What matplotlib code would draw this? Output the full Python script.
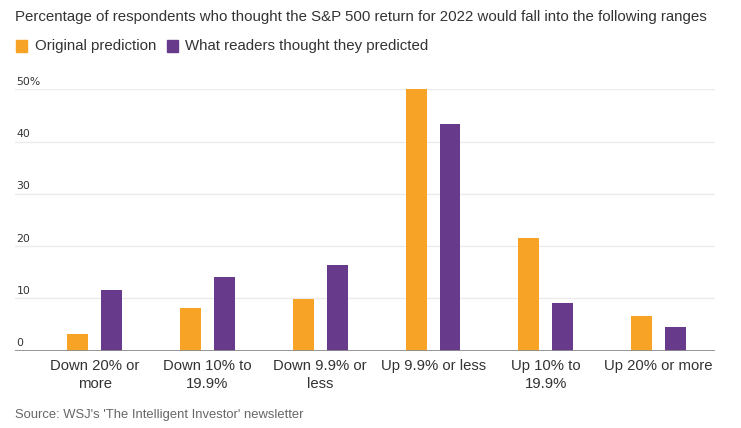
import matplotlib.pyplot as plt
import numpy as np

plt.rcParams['font.family'] = ['Liberation Sans', 'DejaVu Sans']

categories = ['Down 20% or\nmore', 'Down 10% to\n19.9%', 'Down 9.9% or\nless',
              'Up 9.9% or less', 'Up 10% to\n19.9%', 'Up 20% or more']
original = [3.2, 8.1, 9.8, 50.0, 21.5, 6.6]
readers = [11.7, 14.1, 16.3, 43.3, 9.2, 4.6]
yticks = [0, 10, 20, 30, 40, 50]
ytick_labels = ['0', '10', '20', '30', '40', '50%']

c_orange = '#F7A325'
c_purple = '#673A8C'

fig = plt.figure(figsize=(7.41, 4.28), dpi=100)
ax = fig.add_axes([0.0202, 0.1806, 0.9448, 0.6108])

x = np.arange(len(categories))
w = 0.186
ax.bar(x - 0.15, original, w, color=c_orange, zorder=3, clip_on=False)
ax.bar(x + 0.15, readers, w, color=c_purple, zorder=3, clip_on=False)

ax.set_xlim(-0.707, 5.50)
ax.set_ylim(0, 50)

# gridlines + labels sitting above them
for v, lab in zip(yticks, ytick_labels):
    if v > 0:
        ax.axhline(v, color='#ebebeb', lw=1, zorder=1)
    ax.text(0.002, v + 0.45, lab, transform=ax.get_yaxis_transform(),
            ha='left', va='bottom', fontsize=7.8, color='#333333',
            family='DejaVu Sans')
ax.axhline(0, color='#8c8c8c', lw=2, zorder=4)

for s in ax.spines.values():
    s.set_visible(False)
ax.set_yticks([])
ax.set_xticks(x)
ax.set_xticklabels(categories, fontsize=10.7, color='#333333', linespacing=1.35)
ax.tick_params(axis='x', length=0, pad=6)

fig.text(15 / 741, 1 - 17 / 428, 'Percentage of respondents who thought the S&P 500 return for 2022 would fall into the following ranges',
         ha='left', va='center', fontsize=10.8, color='#333333')

# legend
fig.patches.append(plt.Rectangle((16 / 741, 1 - 52 / 428), 11 / 741, 12 / 428,
                                 transform=fig.transFigure, color=c_orange))
fig.text(35 / 741, 1 - 46 / 428, 'Original prediction', ha='left', va='center',
         fontsize=10.8, color='#333333')
fig.patches.append(plt.Rectangle((167 / 741, 1 - 52 / 428), 11 / 741, 12 / 428,
                                 transform=fig.transFigure, color=c_purple))
fig.text(185 / 741, 1 - 46 / 428, 'What readers thought they predicted', ha='left', va='center',
         fontsize=10.8, color='#333333')

fig.text(15 / 741, 1 - 415 / 428, "Source: WSJ's 'The Intelligent Investor' newsletter",
         ha='left', va='center', fontsize=9.4, color='#666666')

fig.savefig('out.png', dpi=100)
